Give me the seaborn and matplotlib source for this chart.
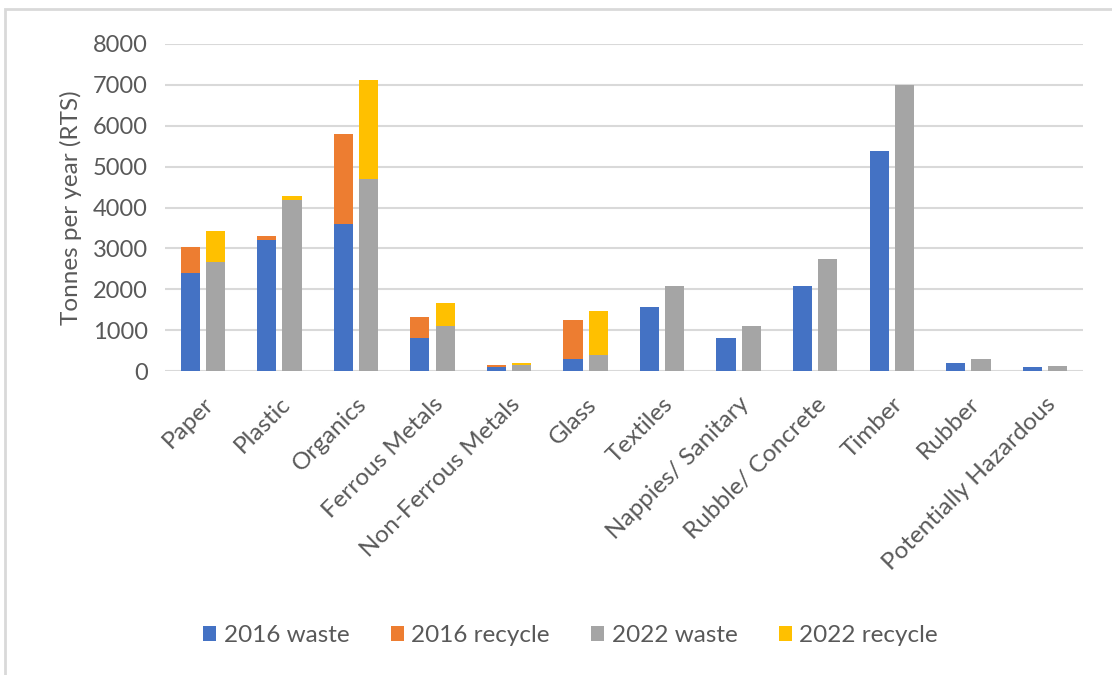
import matplotlib
matplotlib.use("Agg")
import matplotlib.pyplot as plt
import seaborn as sns
import pandas as pd
from matplotlib.patches import Patch, Rectangle

categories = ["Paper", "Plastic", "Organics", "Ferrous Metals", "Non-Ferrous Metals",
              "Glass", "Textiles", "Nappies/ Sanitary", "Rubble/ Concrete", "Timber",
              "Rubber", "Potentially Hazardous"]
waste_2016 = [2400, 3210, 3600, 820, 110, 290, 1580, 810, 2090, 5390, 210, 110]
recycle_2016 = [640, 90, 2190, 510, 50, 960, 0, 0, 0, 0, 0, 0]
waste_2022 = [2680, 4190, 4700, 1110, 150, 400, 2090, 1100, 2750, 7000, 290, 140]
recycle_2022 = [740, 100, 2410, 550, 40, 1070, 0, 0, 0, 0, 0, 0]
years = ["2016", "2022"]
series_labels = ["2016 waste", "2016 recycle", "2022 waste", "2022 recycle"]
colors = {"2016 waste": "#4472C4", "2016 recycle": "#ED7D31",
          "2022 waste": "#A5A5A5", "2022 recycle": "#FFC000"}

rows = []
for i, c in enumerate(categories):
    rows.append({"category": c, "year": "2016", "waste": waste_2016[i],
                 "total": waste_2016[i] + recycle_2016[i]})
    rows.append({"category": c, "year": "2022", "waste": waste_2022[i],
                 "total": waste_2022[i] + recycle_2022[i]})
df = pd.DataFrame(rows)

sns.set_theme(style="white")
plt.rcParams["font.family"] = ["Lato", "DejaVu Sans"]

fig = plt.figure(figsize=(11.12, 6.75), dpi=100)
ax = fig.add_axes([0.148, 0.450, 0.826, 0.485])

bar_kw = dict(order=categories, hue_order=years, width=0.66, gap=0.24,
              errorbar=None, legend=False, linewidth=0, dodge=True, saturation=1)
sns.barplot(data=df, x="category", y="total", hue="year", ax=ax,
            palette={"2016": colors["2016 recycle"], "2022": colors["2022 recycle"]},
            **bar_kw)
sns.barplot(data=df, x="category", y="waste", hue="year", ax=ax,
            palette={"2016": colors["2016 waste"], "2022": colors["2022 waste"]},
            **bar_kw)

ax.set_ylim(0, 8000)
ax.set_xlim(-0.5, len(categories) - 0.5)
ax.set_yticks(range(0, 8001, 1000))
ax.yaxis.grid(True, color="#D9D9D9", linewidth=1.5)
ax.set_axisbelow(True)
for s in ax.spines.values():
    s.set_visible(False)
ax.tick_params(axis="y", labelsize=17, labelcolor="#595959", length=0, pad=12)
ax.tick_params(axis="x", labelsize=17.5, labelcolor="#595959", length=0, pad=16)
ax.set_xticks(range(len(categories)))
ax.set_xticklabels(categories, rotation=45, ha="right", rotation_mode="anchor")
ax.set_xlabel("")
ax.set_ylabel("Tonnes per year (RTS)", fontsize=17.5, color="#595959", labelpad=8)

handles = [Patch(facecolor=colors[s], edgecolor="none", label=s) for s in series_labels]
fig.legend(handles=handles, loc="center", bbox_to_anchor=(0.513, 0.058), ncol=4,
           frameon=False, fontsize=17.5, handlelength=0.55, handleheight=0.55,
           handletextpad=0.3, columnspacing=1.7, labelcolor="#595959")

fig.patches.append(Rectangle((5 / 1112, -0.1), 1.2, (1 - 9 / 675) + 0.1,
                             transform=fig.transFigure, fill=False,
                             edgecolor="#D9D9D9", linewidth=2))

fig.savefig("out.png", dpi=100)
